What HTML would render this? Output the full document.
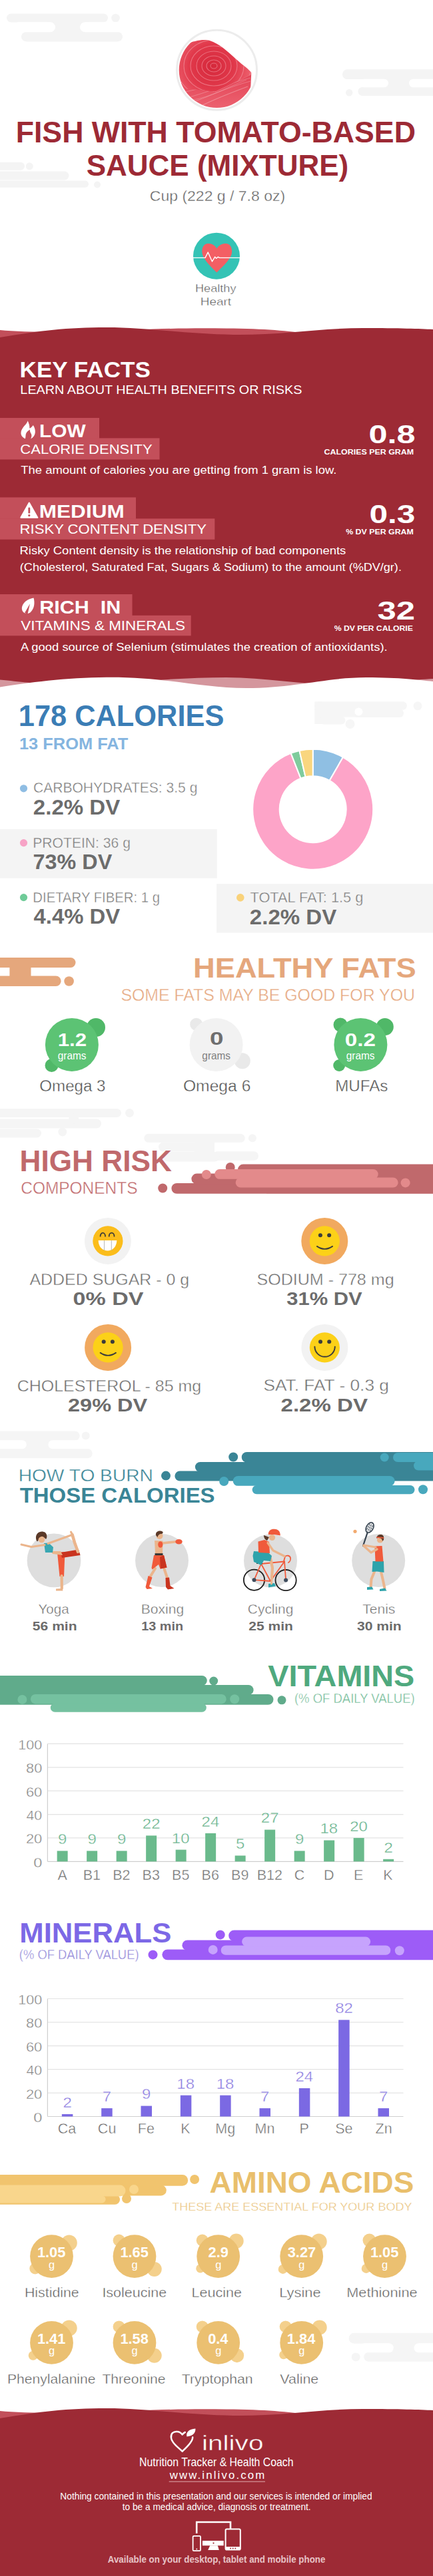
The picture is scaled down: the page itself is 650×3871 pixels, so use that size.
<!DOCTYPE html>
<html><head><meta charset="utf-8"><title>Fish with tomato-based sauce (mixture) - Nutrition facts</title>
<style>
html,body{margin:0;padding:0;background:#ffffff;}
body{width:650px;height:3871px;overflow:hidden;}
svg{display:block;}
text{font-family:"Liberation Sans", Arial, sans-serif; white-space:pre;}
</style></head>
<body>
<svg width="650" height="3871" viewBox="0 0 650 3871">
<rect x="0" y="0" width="650" height="3871" fill="#ffffff"/>
<rect x="10.00" y="20.55" width="152.00" height="12.90" rx="6.450000000000001" fill="#f4f4f4"/>
<circle cx="173.50" cy="27.00" r="6.30" fill="#f4f4f4"/>
<rect x="32.00" y="48.05" width="152.00" height="14.40" rx="7.200000000000003" fill="#f4f4f4"/>
<rect x="70.00" y="32.50" width="64.00" height="16.50" fill="#f4f4f4"/>
<rect x="20.00" y="33.20" width="63.00" height="15.10" rx="7.549999999999997" fill="#ffffff"/>
<rect x="120.00" y="33.20" width="80.00" height="15.10" rx="7.549999999999997" fill="#ffffff"/>
<rect x="514.00" y="104.25" width="186.00" height="14.80" rx="7.399999999999999" fill="#f4f4f4"/>
<rect x="537.40" y="130.95" width="162.60" height="13.00" rx="6.499999999999986" fill="#f4f4f4"/>
<rect x="575.00" y="118.00" width="55.00" height="14.00" fill="#f4f4f4"/>
<rect x="540.00" y="118.80" width="43.00" height="12.40" rx="6.199999999999996" fill="#ffffff"/>
<rect x="614.00" y="118.80" width="86.00" height="12.40" rx="6.199999999999996" fill="#ffffff"/>
<circle cx="524.20" cy="139.30" r="5.20" fill="#f4f4f4"/>
<rect x="-10.00" y="243.75" width="47.00" height="12.00" rx="6.0" fill="#f4f4f4"/>
<circle cx="44.30" cy="249.80" r="5.50" fill="#f4f4f4"/>
<rect x="-10.00" y="257.55" width="113.50" height="12.90" rx="6.449999999999989" fill="#f4f4f4"/>
<rect x="-10.00" y="271.55" width="143.00" height="10.10" rx="5.049999999999983" fill="#f4f4f4"/>
<circle cx="146.00" cy="277.50" r="5.00" fill="#f4f4f4"/>
<circle cx="325.50" cy="105.20" r="60.00" fill="#ffffff" stroke="#ececec" stroke-width="3"/>
<defs><clipPath id="fishclip"><circle cx="325.5" cy="105.2" r="56.8"/></clipPath><radialGradient id="fishg" gradientUnits="userSpaceOnUse" cx="318" cy="100" r="62"><stop offset="0" stop-color="#d5283b"/><stop offset="0.55" stop-color="#e1394b"/><stop offset="1" stop-color="#ee6471"/></radialGradient><linearGradient id="fishs" x1="0" y1="0" x2="0" y2="1"><stop offset="0" stop-color="#e34456"/><stop offset="1" stop-color="#ef6c79"/></linearGradient><clipPath id="fishtop"><path d="M255,80 L270.5,75.8 C278,68 285,63 292.7,62 C298,60.5 302,60 306.6,60 C310,60 312.5,60.3 314.9,61.1 C322,63.5 328,67 334.3,71.6 C341,77 347,82 353.7,88.3 C359,93 365,98 370.3,102.1 C373,104.5 375,106.5 377.2,109 L377.2,112 L323,138 L300,135 L255,132 Z"/></clipPath></defs>
<g clip-path="url(#fishclip)">
<path d="M255,120 L300,133 L323.2,138.1 L377.2,111.8 L376,138 L371.7,149 L371.7,180 L255,180 Z" fill="url(#fishs)"/>
<path d="M262,140 C290,138 330,124 376,112" fill="none" stroke="#ffffff" stroke-opacity="0.25" stroke-width="1"/>
<path d="M262,150 C290,148 330,129 376,117" fill="none" stroke="#ffffff" stroke-opacity="0.25" stroke-width="1"/>
<path d="M262,160 C290,158 330,134 376,122" fill="none" stroke="#ffffff" stroke-opacity="0.25" stroke-width="1"/>
<path d="M300,160 C320,150 345,140 372,130" fill="none" stroke="#ffffff" stroke-opacity="0.3" stroke-width="1.1"/>
<path d="M290,150 C315,146 340,132 370,120" fill="none" stroke="#ffffff" stroke-opacity="0.22" stroke-width="1"/>
<g clip-path="url(#fishtop)">
<rect x="250.00" y="55.00" width="140.00" height="90.00" fill="url(#fishg)"/>
<ellipse cx="321" cy="99" rx="5" ry="4" fill="none" stroke="#f6a0ab" stroke-opacity="0.55" stroke-width="1.1"/>
<ellipse cx="321" cy="99" rx="11" ry="9" fill="none" stroke="#f6a0ab" stroke-opacity="0.55" stroke-width="1.1"/>
<ellipse cx="321" cy="99" rx="18" ry="15" fill="none" stroke="#f6a0ab" stroke-opacity="0.55" stroke-width="1.1"/>
<ellipse cx="321" cy="99" rx="26" ry="22" fill="none" stroke="#f6a0ab" stroke-opacity="0.55" stroke-width="1.1"/>
<ellipse cx="321" cy="99" rx="35" ry="30" fill="none" stroke="#f6a0ab" stroke-opacity="0.55" stroke-width="1.1"/>
<ellipse cx="321" cy="99" rx="45" ry="39" fill="none" stroke="#f6a0ab" stroke-opacity="0.55" stroke-width="1.1"/>
<ellipse cx="321" cy="99" rx="56" ry="49" fill="none" stroke="#f6a0ab" stroke-opacity="0.55" stroke-width="1.1"/>
</g>
</g>
<text x="23.69" y="214.40" font-size="44.00" font-weight="bold" fill="#9d2a35" textLength="600.18" lengthAdjust="spacingAndGlyphs">FISH WITH TOMATO-BASED</text>
<text x="129.68" y="264.00" font-size="44.00" font-weight="bold" fill="#9d2a35" textLength="393.50" lengthAdjust="spacingAndGlyphs">SAUCE (MIXTURE)</text>
<text x="224.85" y="302.40" font-size="21.50" fill="#5e5e5e" textLength="203.26" lengthAdjust="spacingAndGlyphs" stroke="#ffffff" stroke-width="0.4">Cup (222 g / 7.8 oz)</text>
<circle cx="325.00" cy="384.70" r="35.00" fill="#34c3b5"/>
<path d="M325.3,373.5 C322,367.5 317,366 312.2,366 C306.5,366 303.3,371 303.3,378 C303.3,388 314,398 325.3,409.6 C336.6,398 348.2,388 348.2,378 C348.2,371 345,366 339.2,366 C334.5,366 329,367.5 325.3,373.5 Z" fill="#f35f64"/>
<path d="M290,387.4 L308.1,387.4 L312.2,379.1 L318.5,393 L322.6,386.1 L324.7,388.2 L327.4,386.1 L329.5,387.4 L360,387.4" fill="none" stroke="#ffffff" stroke-width="1.4" stroke-linejoin="round"/>
<text x="293.00" y="439.30" font-size="15.90" fill="#505050" textLength="61.45" lengthAdjust="spacingAndGlyphs" stroke="#ffffff" stroke-width="0.4">Healthy</text>
<text x="300.84" y="458.50" font-size="15.90" fill="#505050" textLength="46.31" lengthAdjust="spacingAndGlyphs" stroke="#ffffff" stroke-width="0.4">Heart</text>
<path d="M0,496 C40,500 120,500 200,496 C260,493 300,493 340,493.5 C400,494 430,497 470,502 L650,505 L650,560 L0,560 Z" fill="#c24f5a"/>
<path d="M0,507 C60,497 100,492 160,492 C220,492 280,502 350,503 C420,504 480,493 545,493 C600,493 630,494 650,495 L650,1040 L0,1040 Z" fill="#9d2a35"/>
<path d="M0,1021.4 C30,1024 50,1028 100,1028 C170,1028 260,1018 340,1018 C400,1018 460,1030 520,1029 C580,1028 620,1021 650,1020 L650,1045 L0,1045 Z" fill="#d4969d"/>
<path d="M0,1032.5 C40,1026 100,1018 160,1017.7 C250,1017 300,1034 370,1034 C440,1034 490,1018 550,1018 C600,1018 630,1022 650,1024 L650,1050 L0,1050 Z" fill="#ffffff"/>
<text x="29.63" y="567.40" font-size="33.70" font-weight="bold" fill="#ffffff" textLength="196.23" lengthAdjust="spacingAndGlyphs">KEY FACTS</text>
<text x="30.37" y="592.40" font-size="18.20" fill="#ffffff" textLength="423.12" lengthAdjust="spacingAndGlyphs">LEARN ABOUT HEALTH BENEFITS OR RISKS</text>
<rect x="0.00" y="628.00" width="149.00" height="31.00" fill="#c34f5a"/>
<rect x="0.00" y="658.40" width="239.50" height="32.10" fill="#c34f5a"/>
<path d="M41.6,632.2 C43.5,636 44.6,640 44.4,643.8 C46.5,642.6 48.6,640.7 49.8,638.9 C52,642 53.1,646 52.8,649.6 C52.5,654 50,657.6 46.2,659.4 C47.6,656.6 47.9,653.6 46.6,651.6 C45.6,650 44.6,648 44.9,645.6 C42,647.5 39.6,649.6 38.9,652 C38.3,654.5 38.6,657 37.9,659.2 C33.5,657.2 31.2,654 31.5,650.2 C31.8,644.5 36.5,640.5 39.3,636.8 C40.4,635.3 41.3,633.8 41.6,632.2 Z" fill="#ffffff"/>
<text x="58.98" y="657.00" font-size="28.00" font-weight="bold" fill="#ffffff" textLength="69.69" lengthAdjust="spacingAndGlyphs">LOW</text>
<text x="30.30" y="682.10" font-size="20.40" fill="#ffffff" textLength="198.29" lengthAdjust="spacingAndGlyphs">CALORIE DENSITY</text>
<text x="31.29" y="712.40" font-size="16.30" fill="#ffffff" textLength="474.08" lengthAdjust="spacingAndGlyphs">The amount of calories you are getting from 1 gram is low.</text>
<text x="553.48" y="665.90" font-size="39.00" font-weight="bold" fill="#ffffff" textLength="70.04" lengthAdjust="spacingAndGlyphs">0.8</text>
<text x="486.50" y="683.20" font-size="11.60" font-weight="bold" fill="#ffffff" textLength="134.63" lengthAdjust="spacingAndGlyphs">CALORIES PER GRAM</text>
<rect x="0.00" y="747.40" width="204.00" height="32.40" fill="#c34f5a"/>
<rect x="0.00" y="779.30" width="322.30" height="31.40" fill="#c34f5a"/>
<path d="M43.8,755.5 L56.3,777.8 L31.3,777.8 Z" fill="#ffffff" stroke="#ffffff" stroke-width="2" stroke-linejoin="round"/>
<rect x="42.40" y="762.50" width="2.80" height="9.00" rx="1.2" fill="#c34f5a"/>
<circle cx="43.80" cy="774.60" r="1.60" fill="#c34f5a"/>
<text x="58.87" y="777.70" font-size="28.00" font-weight="bold" fill="#ffffff" textLength="127.78" lengthAdjust="spacingAndGlyphs">MEDIUM</text>
<text x="29.58" y="802.20" font-size="20.40" fill="#ffffff" textLength="280.33" lengthAdjust="spacingAndGlyphs">RISKY CONTENT DENSITY</text>
<text x="29.48" y="833.00" font-size="16.30" fill="#ffffff" textLength="489.88" lengthAdjust="spacingAndGlyphs">Risky Content density is the relationship of bad components</text>
<text x="29.87" y="857.90" font-size="16.30" fill="#ffffff" textLength="573.05" lengthAdjust="spacingAndGlyphs">(Cholesterol, Saturated Fat, Sugars &amp; Sodium) to the amount (%DV/gr).</text>
<text x="554.42" y="786.40" font-size="39.00" font-weight="bold" fill="#ffffff" textLength="68.93" lengthAdjust="spacingAndGlyphs">0.3</text>
<text x="519.19" y="802.60" font-size="11.60" font-weight="bold" fill="#ffffff" textLength="101.62" lengthAdjust="spacingAndGlyphs">% DV PER GRAM</text>
<rect x="0.00" y="893.00" width="198.50" height="32.30" fill="#c34f5a"/>
<rect x="0.00" y="924.80" width="286.70" height="30.50" fill="#c34f5a"/>
<path d="M50.5,898.6 C52.6,906 51.6,915 45.6,920.2 C42,923.2 37,922.2 34.5,919.2 C32,916.2 32.5,911 35,907.5 C38.5,902.5 44,900 50.5,898.6 Z" fill="#ffffff"/>
<path d="M45,907.2 L41.3,923.5 L37.2,920.8 Z" fill="#c34f5a"/>
<text x="59.34" y="921.60" font-size="28.00" font-weight="bold" fill="#ffffff" textLength="121.92" lengthAdjust="spacingAndGlyphs">RICH  IN</text>
<text x="31.29" y="947.00" font-size="20.40" fill="#ffffff" textLength="246.69" lengthAdjust="spacingAndGlyphs">VITAMINS &amp; MINERALS</text>
<text x="30.95" y="978.40" font-size="16.30" fill="#ffffff" textLength="550.73" lengthAdjust="spacingAndGlyphs">A good source of Selenium (stimulates the creation of antioxidants).</text>
<text x="566.46" y="931.40" font-size="39.00" font-weight="bold" fill="#ffffff" textLength="56.57" lengthAdjust="spacingAndGlyphs">32</text>
<text x="501.69" y="947.50" font-size="11.60" font-weight="bold" fill="#ffffff" textLength="118.10" lengthAdjust="spacingAndGlyphs">% DV PER CALORIE</text>
<rect x="472.30" y="1054.35" width="138.70" height="12.40" rx="6.2000000000000455" fill="#f6f6f6"/>
<rect x="472.30" y="1054.40" width="12.00" height="12.30" fill="#f6f6f6"/>
<circle cx="627.00" cy="1060.80" r="6.50" fill="#f6f6f6"/>
<rect x="472.30" y="1066.00" width="74.00" height="11.50" fill="#f6f6f6"/>
<rect x="530.00" y="1065.55" width="76.00" height="12.40" rx="6.2000000000000455" fill="#f6f6f6"/>
<rect x="472.30" y="1077.00" width="36.00" height="11.00" fill="#f6f6f6"/>
<rect x="480.00" y="1076.55" width="38.50" height="11.90" rx="5.9500000000000455" fill="#f6f6f6"/>
<circle cx="525.50" cy="1088.00" r="7.00" fill="#f6f6f6"/>
<circle cx="538.40" cy="1069.50" r="6.00" fill="#ffffff"/>
<text x="27.79" y="1091.20" font-size="43.60" font-weight="bold" fill="#3b7db5" textLength="308.58" lengthAdjust="spacingAndGlyphs">178 CALORIES</text>
<text x="28.91" y="1126.00" font-size="23.30" font-weight="bold" fill="#85b5e0" textLength="163.38" lengthAdjust="spacingAndGlyphs">13 FROM FAT</text>
<circle cx="35.50" cy="1184.80" r="5.60" fill="#8fbde3"/>
<text x="49.95" y="1191.40" font-size="21.40" fill="#7a7a7a" textLength="246.42" lengthAdjust="spacingAndGlyphs" stroke="#ffffff" stroke-width="0.4">CARBOHYDRATES: 3.5 g</text>
<text x="49.84" y="1223.80" font-size="32.00" font-weight="bold" fill="#6c6c6c" textLength="130.37" lengthAdjust="spacingAndGlyphs">2.2% DV</text>
<rect x="0.00" y="1246.00" width="325.70" height="73.70" fill="#f4f4f4"/>
<circle cx="35.50" cy="1266.60" r="5.60" fill="#f7a3c6"/>
<text x="49.26" y="1273.80" font-size="21.40" fill="#7a7a7a" textLength="146.70" lengthAdjust="spacingAndGlyphs" stroke="#f4f4f4" stroke-width="0.4">PROTEIN: 36 g</text>
<text x="49.63" y="1305.80" font-size="32.00" font-weight="bold" fill="#6c6c6c" textLength="118.57" lengthAdjust="spacingAndGlyphs">73% DV</text>
<circle cx="35.50" cy="1348.60" r="5.60" fill="#6fcb98"/>
<text x="49.33" y="1355.80" font-size="21.40" fill="#7a7a7a" textLength="190.69" lengthAdjust="spacingAndGlyphs" stroke="#ffffff" stroke-width="0.4">DIETARY FIBER: 1 g</text>
<text x="50.51" y="1388.30" font-size="32.00" font-weight="bold" fill="#6c6c6c" textLength="129.70" lengthAdjust="spacingAndGlyphs">4.4% DV</text>
<rect x="325.00" y="1328.20" width="325.00" height="73.40" fill="#f4f4f4"/>
<circle cx="360.80" cy="1348.90" r="5.80" fill="#f9d27a"/>
<text x="375.51" y="1355.50" font-size="21.40" fill="#7a7a7a" textLength="169.90" lengthAdjust="spacingAndGlyphs" stroke="#f4f4f4" stroke-width="0.4">TOTAL FAT: 1.5 g</text>
<text x="374.84" y="1389.00" font-size="32.00" font-weight="bold" fill="#6c6c6c" textLength="130.37" lengthAdjust="spacingAndGlyphs">2.2% DV</text>
<path d="M469.70,1125.70 A90.5,90.5 0 0 1 514.95,1137.82 L494.70,1172.90 A50,50 0 0 0 469.70,1166.20 Z" fill="#8fbfe3" stroke="#ffffff" stroke-width="2"/>
<path d="M514.95,1137.82 A90.5,90.5 0 1 1 436.68,1131.94 L451.46,1169.65 A50,50 0 1 0 494.70,1172.90 Z" fill="#fda4c8" stroke="#ffffff" stroke-width="2"/>
<path d="M436.68,1131.94 A90.5,90.5 0 0 1 449.50,1127.98 L458.54,1167.46 A50,50 0 0 0 451.46,1169.65 Z" fill="#7fcc9d" stroke="#ffffff" stroke-width="2"/>
<path d="M449.50,1127.98 A90.5,90.5 0 0 1 469.70,1125.70 L469.70,1166.20 A50,50 0 0 0 458.54,1167.46 Z" fill="#f9d67f" stroke="#ffffff" stroke-width="2"/>
<rect x="-20.00" y="1438.95" width="133.50" height="15.00" rx="7.5" fill="#e5a77c"/>
<rect x="14.40" y="1452.00" width="32.10" height="16.00" fill="#e5a77c"/>
<rect x="-20.00" y="1466.55" width="111.60" height="15.40" rx="7.7000000000000455" fill="#e5a77c"/>
<circle cx="103.60" cy="1474.50" r="7.30" fill="#e5a77c"/>
<text x="289.94" y="1469.20" font-size="43.20" font-weight="bold" fill="#e5a77c" textLength="334.84" lengthAdjust="spacingAndGlyphs">HEALTHY FATS</text>
<text x="181.38" y="1504.20" font-size="25.40" fill="#e6a87f" textLength="441.55" lengthAdjust="spacingAndGlyphs" stroke="#ffffff" stroke-width="0.4">SOME FATS MAY BE GOOD FOR YOU</text>
<circle cx="144.00" cy="1544.00" r="14.00" fill="#50b868"/>
<circle cx="77.50" cy="1601.00" r="10.00" fill="#50b868"/>
<circle cx="107.90" cy="1569.90" r="40.00" fill="#5cc374"/>
<text x="86.75" y="1571.90" font-size="28.00" font-weight="bold" fill="#ffffff" textLength="43.43" lengthAdjust="spacingAndGlyphs">1.2</text>
<text x="86.75" y="1592.30" font-size="16.50" fill="#ffffff" textLength="42.81" lengthAdjust="spacingAndGlyphs">grams</text>
<circle cx="294.70" cy="1539.20" r="9.50" fill="#e9e9e9"/>
<circle cx="363.80" cy="1594.30" r="12.00" fill="#e9e9e9"/>
<circle cx="324.60" cy="1570.00" r="40.00" fill="#f2f2f2"/>
<text x="315.13" y="1570.40" font-size="28.00" font-weight="bold" fill="#6e6e6e" textLength="20.49" lengthAdjust="spacingAndGlyphs">0</text>
<text x="303.35" y="1592.30" font-size="16.50" fill="#808080" textLength="42.70" lengthAdjust="spacingAndGlyphs">grams</text>
<circle cx="511.00" cy="1540.00" r="10.50" fill="#50b868"/>
<circle cx="577.80" cy="1543.00" r="13.00" fill="#50b868"/>
<circle cx="509.20" cy="1601.00" r="9.00" fill="#50b868"/>
<circle cx="541.40" cy="1569.90" r="40.00" fill="#5cc374"/>
<text x="517.87" y="1571.90" font-size="28.00" font-weight="bold" fill="#ffffff" textLength="46.18" lengthAdjust="spacingAndGlyphs">0.2</text>
<text x="519.75" y="1592.30" font-size="16.50" fill="#ffffff" textLength="42.81" lengthAdjust="spacingAndGlyphs">grams</text>
<text x="59.35" y="1640.00" font-size="24.70" fill="#525252" textLength="99.19" lengthAdjust="spacingAndGlyphs" stroke="#ffffff" stroke-width="0.4">Omega 3</text>
<text x="274.93" y="1640.00" font-size="24.70" fill="#525252" textLength="101.44" lengthAdjust="spacingAndGlyphs" stroke="#ffffff" stroke-width="0.4">Omega 6</text>
<text x="503.21" y="1640.00" font-size="24.70" fill="#525252" textLength="79.15" lengthAdjust="spacingAndGlyphs" stroke="#ffffff" stroke-width="0.4">MUFAs</text>
<rect x="-10.00" y="1666.05" width="192.00" height="12.90" rx="6.4500000000000455" fill="#f5f5f5"/>
<circle cx="194.50" cy="1672.50" r="6.50" fill="#f5f5f5"/>
<rect x="-10.00" y="1681.55" width="162.00" height="13.90" rx="6.9500000000000455" fill="#f5f5f5"/>
<circle cx="110.70" cy="1681.00" r="7.50" fill="#f5f5f5"/>
<rect x="-10.00" y="1696.55" width="72.00" height="12.90" rx="6.4500000000000455" fill="#f5f5f5"/>
<circle cx="93.80" cy="1701.00" r="6.50" fill="#f5f5f5"/>
<rect x="216.30" y="1703.75" width="151.40" height="13.10" rx="6.550000000000068" fill="#f5f5f5"/>
<circle cx="378.90" cy="1710.30" r="6.00" fill="#f5f5f5"/>
<rect x="291.50" y="1716.00" width="30.50" height="15.00" fill="#f5f5f5"/>
<rect x="238.00" y="1716.55" width="62.00" height="13.90" rx="6.9500000000000455" fill="#f5f5f5"/>
<rect x="319.40" y="1730.15" width="68.60" height="13.70" rx="6.850000000000136" fill="#f5f5f5"/>
<rect x="245.00" y="1731.05" width="85.00" height="14.40" rx="7.2000000000000455" fill="#f5f5f5"/>
<text x="29.52" y="1759.60" font-size="43.60" font-weight="bold" fill="#c0696c" textLength="228.41" lengthAdjust="spacingAndGlyphs">HIGH RISK</text>
<text x="31.28" y="1794.30" font-size="25.40" fill="#c0696c" textLength="175.21" lengthAdjust="spacingAndGlyphs" stroke="#ffffff" stroke-width="0.4">COMPONENTS</text>
<circle cx="244.20" cy="1785.50" r="7.00" fill="#c0696c"/>
<rect x="257.40" y="1777.95" width="442.60" height="15.80" rx="7.899999999999977" fill="#c0696c"/>
<rect x="287.40" y="1763.55" width="412.60" height="15.90" rx="7.9500000000000455" fill="#c0696c"/>
<circle cx="345.70" cy="1754.00" r="7.00" fill="#c0696c"/>
<rect x="357.00" y="1749.55" width="343.00" height="15.90" rx="7.9500000000000455" fill="#c0696c"/>
<rect x="400.00" y="1750.00" width="250.00" height="43.30" fill="#c0696c"/>
<circle cx="309.80" cy="1765.00" r="7.00" fill="#e38a8b"/>
<rect x="322.30" y="1756.95" width="245.40" height="14.90" rx="7.4500000000000455" fill="#e38a8b"/>
<rect x="353.70" y="1769.55" width="243.90" height="14.90" rx="7.4500000000000455" fill="#e38a8b"/>
<circle cx="608.60" cy="1777.40" r="7.00" fill="#e38a8b"/>
<circle cx="161.90" cy="1864.90" r="35.00" fill="#f2f2f2"/>
<circle cx="161.90" cy="1864.90" r="22.60" fill="#fbbd1b"/>
<path d="M150.6,1857.7 A3.7,5 0 0 1 158.0,1857.7" fill="none" stroke="#3a3a3a" stroke-width="1.8" stroke-linecap="round"/>
<path d="M163.70000000000002,1857.7 A3.9,5 0 0 1 171.5,1857.7" fill="none" stroke="#3a3a3a" stroke-width="1.8" stroke-linecap="round"/>
<path d="M147.6,1864.1000000000001 L175.4,1864.1000000000001 C174.9,1874.9 167.9,1879.6000000000001 161.5,1879.6000000000001 C154.9,1879.6000000000001 147.9,1874.9 147.6,1864.1000000000001 Z" fill="#ffffff"/>
<rect x="156.10" y="1864.10" width="0.90" height="15.00" fill="#b0b0b0"/>
<rect x="166.80" y="1864.10" width="0.90" height="15.00" fill="#b0b0b0"/>
<circle cx="487.30" cy="1864.90" r="35.00" fill="#f1a95f"/>
<circle cx="487.30" cy="1864.90" r="22.60" fill="#fcd118"/>
<circle cx="480.90" cy="1856.20" r="3.00" fill="#3c3c3c"/>
<circle cx="494.10" cy="1856.20" r="3.00" fill="#3c3c3c"/>
<path d="M475.90000000000003,1872.9 Q487.3,1880.9 499.1,1872.9" fill="none" stroke="#3c3c3c" stroke-width="1.9" stroke-linecap="round"/>
<circle cx="162.10" cy="2024.90" r="35.00" fill="#f1a95f"/>
<circle cx="162.10" cy="2024.90" r="22.60" fill="#fcd118"/>
<circle cx="155.70" cy="2016.20" r="3.00" fill="#3c3c3c"/>
<circle cx="168.90" cy="2016.20" r="3.00" fill="#3c3c3c"/>
<path d="M150.7,2032.9 Q162.1,2040.9 173.9,2032.9" fill="none" stroke="#3c3c3c" stroke-width="1.9" stroke-linecap="round"/>
<circle cx="487.40" cy="2024.90" r="35.00" fill="#f2f2f2"/>
<circle cx="487.40" cy="2024.90" r="22.60" fill="#fcd118"/>
<circle cx="481.00" cy="2016.20" r="3.00" fill="#3c3c3c"/>
<circle cx="494.20" cy="2016.20" r="3.00" fill="#3c3c3c"/>
<path d="M472.4,2023.6000000000001 A15.2,15.2 0 0 0 502.79999999999995,2023.6000000000001" fill="none" stroke="#3c3c3c" stroke-width="1.9" stroke-linecap="round"/>
<text x="44.44" y="1930.50" font-size="24.70" fill="#707070" textLength="239.65" lengthAdjust="spacingAndGlyphs" stroke="#ffffff" stroke-width="0.4">ADDED SUGAR - 0 g</text>
<text x="109.64" y="1960.80" font-size="27.50" font-weight="bold" fill="#6c6c6c" textLength="105.81" lengthAdjust="spacingAndGlyphs">0% DV</text>
<text x="385.47" y="1930.50" font-size="24.70" fill="#707070" textLength="206.14" lengthAdjust="spacingAndGlyphs" stroke="#ffffff" stroke-width="0.4">SODIUM - 778 mg</text>
<text x="430.30" y="1960.50" font-size="27.50" font-weight="bold" fill="#6c6c6c" textLength="113.38" lengthAdjust="spacingAndGlyphs">31% DV</text>
<text x="25.65" y="2090.50" font-size="24.70" fill="#707070" textLength="276.61" lengthAdjust="spacingAndGlyphs" stroke="#ffffff" stroke-width="0.4">CHOLESTEROL - 85 mg</text>
<text x="102.06" y="2121.30" font-size="27.50" font-weight="bold" fill="#6c6c6c" textLength="119.13" lengthAdjust="spacingAndGlyphs">29% DV</text>
<text x="395.42" y="2090.30" font-size="24.70" fill="#707070" textLength="188.59" lengthAdjust="spacingAndGlyphs" stroke="#ffffff" stroke-width="0.4">SAT. FAT - 0.3 g</text>
<text x="421.54" y="2121.30" font-size="27.50" font-weight="bold" fill="#6c6c6c" textLength="130.47" lengthAdjust="spacingAndGlyphs">2.2% DV</text>
<rect x="-10.00" y="2150.55" width="129.70" height="14.20" rx="7.099999999999909" fill="#f5f5f5"/>
<circle cx="128.70" cy="2157.50" r="6.00" fill="#f5f5f5"/>
<rect x="-10.00" y="2176.75" width="148.70" height="14.60" rx="7.2999999999999545" fill="#f5f5f5"/>
<rect x="30.00" y="2163.80" width="52.00" height="14.00" fill="#f5f5f5"/>
<rect x="-50.00" y="2164.30" width="89.90" height="12.90" rx="6.449999999999818" fill="#ffffff"/>
<rect x="72.30" y="2164.30" width="227.70" height="12.90" rx="6.449999999999818" fill="#ffffff"/>
<text x="27.68" y="2226.40" font-size="26.20" fill="#3a8596" textLength="202.16" lengthAdjust="spacingAndGlyphs" stroke="#ffffff" stroke-width="0.4">HOW TO BURN</text>
<text x="29.67" y="2258.30" font-size="30.50" font-weight="bold" fill="#3a8596" textLength="292.94" lengthAdjust="spacingAndGlyphs">THOSE CALORIES</text>
<circle cx="249.00" cy="2217.60" r="7.00" fill="#3a8596"/>
<rect x="262.40" y="2210.55" width="437.60" height="14.90" rx="7.449999999999818" fill="#3a8596"/>
<rect x="292.90" y="2197.05" width="407.10" height="14.90" rx="7.449999999999818" fill="#3a8596"/>
<circle cx="350.20" cy="2189.50" r="7.00" fill="#3a8596"/>
<rect x="362.70" y="2182.05" width="337.30" height="15.40" rx="7.699999999999818" fill="#3a8596"/>
<rect x="400.00" y="2182.50" width="250.00" height="36.00" fill="#3a8596"/>
<circle cx="336.20" cy="2226.00" r="7.00" fill="#48a8bd"/>
<rect x="349.70" y="2217.95" width="242.90" height="14.90" rx="7.449999999999818" fill="#48a8bd"/>
<rect x="378.60" y="2231.95" width="243.90" height="13.30" rx="6.649999999999864" fill="#48a8bd"/>
<circle cx="635.00" cy="2238.30" r="7.00" fill="#48a8bd"/>
<circle cx="577.20" cy="2190.00" r="6.50" fill="#48a8bd"/>
<rect x="590.00" y="2183.05" width="110.00" height="13.90" rx="6.949999999999818" fill="#48a8bd"/>
<rect x="621.00" y="2195.55" width="79.00" height="13.90" rx="6.949999999999818" fill="#48a8bd"/>
<circle cx="81.00" cy="2344.90" r="40.40" fill="#dedede"/>
<path d="M86.0,2333.0 L97.5,2332.0 L96.0,2369.0 L89.5,2369.0 Z" fill="#f05a3b"/>
<path d="M92.6,2368.0 L92.8,2387.0" fill="none" stroke="#ebb58c" stroke-width="4.2" stroke-linecap="round" stroke-linejoin="round"/>
<path d="M84.0,2387.5 L93.5,2387.0 L94.5,2390.5 L84.0,2390.5 Z" fill="#ebb58c"/>
<path d="M91.0,2333.0 L118.0,2328.5 L120.5,2337.0 L93.0,2341.0 Z" fill="#c9341f"/>
<path d="M117.0,2332.0 L112.0,2318.0 L108.5,2306.0" fill="none" stroke="#ebb58c" stroke-width="4.5" stroke-linecap="round" stroke-linejoin="round"/>
<path d="M108.5,2306.0 L106.5,2302.0" fill="none" stroke="#ebb58c" stroke-width="3" stroke-linecap="round" stroke-linejoin="round"/>
<path d="M76.0,2331.0 L91.0,2331.0 L94.0,2337.0 L79.0,2335.0 Z" fill="#ebb58c"/>
<path d="M66.0,2319.0 L73.0,2318.5 L80.0,2325.0 L79.0,2333.0 L68.0,2333.0 Z" fill="#39a7b2"/>
<path d="M67.0,2321.5 L47.0,2324.5 L32.0,2321.0" fill="none" stroke="#ebb58c" stroke-width="3" stroke-linecap="round" stroke-linejoin="round"/>
<path d="M72.0,2319.5 L108.0,2306.5" fill="none" stroke="#ebb58c" stroke-width="3" stroke-linecap="round" stroke-linejoin="round"/>
<path d="M54,2312 C53,2303 62,2299 68,2303 C71,2306 71,2311 69,2313 C66,2309 61,2309 58,2313 C57,2317 55,2318 54,2312 Z" fill="#5b3a29"/>
<circle cx="62.50" cy="2313.50" r="4.80" fill="#ebb58c"/>
<path d="M57.5,2310 C58,2306 63,2305 66.5,2308 C63,2308.5 60,2309 57.5,2312 Z" fill="#5b3a29"/>
<circle cx="243.00" cy="2345.00" r="40.00" fill="#dedede"/>
<path d="M233.0,2357.0 L225.0,2370.0" fill="none" stroke="#ebb58c" stroke-width="4" stroke-linecap="round" stroke-linejoin="round"/>
<path d="M246.0,2356.0 L251.0,2371.0" fill="none" stroke="#ebb58c" stroke-width="4" stroke-linecap="round" stroke-linejoin="round"/>
<path d="M222.5,2368.0 L228.5,2370.5 L224.0,2384.0 L229.0,2387.0 L220.5,2388.0 L218.5,2385.0 Z" fill="#f05a3b"/>
<path d="M248.5,2371.0 L254.0,2370.5 L255.5,2383.0 L261.5,2387.0 L252.0,2388.5 L249.0,2385.0 Z" fill="#c9341f"/>
<path d="M232.0,2315.0 L244.5,2315.5 L244.0,2335.0 L233.0,2335.0 Z" fill="#ebb58c"/>
<path d="M231.0,2337.0 L246.0,2337.0 L250.5,2355.5 L240.5,2357.5 L238.0,2351.0 L228.5,2358.5 L227.5,2356.0 Z" fill="#f05a3b"/>
<path d="M240.0,2340.0 L246.0,2337.0 L250.5,2355.5 L241.0,2357.5 Z" fill="#c9341f"/>
<rect x="232.50" y="2334.20" width="12.00" height="3.00" fill="#333333"/>
<path d="M243.0,2319.0 L264.0,2316.8" fill="none" stroke="#ebb58c" stroke-width="3.6" stroke-linecap="round" stroke-linejoin="round"/>
<ellipse cx="268.5" cy="2316.7" rx="5.2" ry="3.8" fill="#f05a3b"/>
<ellipse cx="240.8" cy="2321" rx="3.6" ry="4.8" fill="#f05a3b"/>
<circle cx="239.50" cy="2308.00" r="5.00" fill="#ebb58c"/>
<path d="M234,2307 C233,2301 240,2299 244.5,2302 C245,2304 244,2305 242,2305 C239,2305 237,2307 236.5,2310 Z" fill="#5b3a29"/>
<circle cx="406.00" cy="2345.40" r="40.00" fill="#dedede"/>
<circle cx="381.50" cy="2374.20" r="15.60" fill="none" stroke="#1e1e1e" stroke-width="1.8" fill="none"/>
<circle cx="429.10" cy="2374.60" r="15.60" fill="none" stroke="#1e1e1e" stroke-width="1.8" fill="none"/>
<path d="M381.5,2374.2 L392.0,2350.0 L406.0,2376.0 L381.5,2374.2" fill="none" stroke="#f05a3b" stroke-width="1.8" stroke-linecap="round" stroke-linejoin="round"/>
<path d="M392.0,2350.0 L427.0,2346.5 L406.0,2376.0" fill="none" stroke="#f05a3b" stroke-width="1.8" stroke-linecap="round" stroke-linejoin="round"/>
<path d="M427.0,2346.5 L429.1,2374.6" fill="none" stroke="#f05a3b" stroke-width="1.8" stroke-linecap="round" stroke-linejoin="round"/>
<path d="M426,2346 L428,2339 C430,2337 435,2337 436,2341 C436.5,2344 435,2347 433,2348" fill="none" stroke="#f05a3b" stroke-width="1.8" stroke-linecap="round"/>
<circle cx="381.50" cy="2374.20" r="3.00" fill="#3d4b5c"/>
<circle cx="429.10" cy="2374.60" r="3.00" fill="#3d4b5c"/>
<rect x="385.00" y="2347.50" width="9.00" height="2.40" fill="#222222"/>
<path d="M406.0,2342.0 L409.0,2356.0 L408.0,2371.0" fill="none" stroke="#ebb58c" stroke-width="4.2" stroke-linecap="round" stroke-linejoin="round"/>
<path d="M403.0,2380.0 L412.0,2379.0 L414.0,2383.5 L403.0,2385.5 Z" fill="#2ea3ab"/>
<path d="M408.0,2371.0 L407.5,2380.0" fill="none" stroke="#ebb58c" stroke-width="3" stroke-linecap="round" stroke-linejoin="round"/>
<path d="M381.0,2331.0 L402.0,2332.5 L408.0,2338.0 L406.0,2346.0 L396.0,2345.0 L392.0,2352.0 L381.0,2347.0 L379.5,2338.0 Z" fill="#2ea3ab"/>
<path d="M387.5,2316.5 L397.0,2314.0 L404.0,2317.0 L405.0,2334.0 L388.0,2333.0 Z" fill="#f05a3b"/>
<path d="M402.0,2318.5 L410.0,2330.0 L427.0,2338.5" fill="none" stroke="#ebb58c" stroke-width="3.2" stroke-linecap="round" stroke-linejoin="round"/>
<path d="M396,2307 C396,2311 398,2314 401,2315 L404,2310 Z" fill="#5b3a29"/>
<circle cx="408.50" cy="2310.50" r="4.60" fill="#ebb58c"/>
<path d="M402.8,2306 C402.5,2300 407,2297.5 412,2297.8 C418,2298 421,2302 420.8,2307.5 L412,2306 Z" fill="#f05a3b"/>
<circle cx="568.20" cy="2345.00" r="40.00" fill="#dedede"/>
<circle cx="533.00" cy="2301.30" r="2.60" fill="#f2aa6f"/>
<ellipse cx="555.1" cy="2295.5" rx="5.2" ry="8.3" transform="rotate(28 555.1 2295.5)" fill="none" stroke="#34424f" stroke-width="1.6"/>
<g transform="rotate(28 555.1 2295.5)" stroke="#34424f" stroke-width="0.6"><line x1="552.6" y1="2288" x2="552.6" y2="2303"/><line x1="555.1" y1="2287.2" x2="555.1" y2="2303.8"/><line x1="557.6" y1="2288" x2="557.6" y2="2303"/><line x1="550" y1="2292" x2="560.2" y2="2292"/><line x1="550" y1="2295.5" x2="560.2" y2="2295.5"/><line x1="550" y1="2299" x2="560.2" y2="2299"/></g>
<path d="M551.3,2304.0 L545.0,2323.0" fill="none" stroke="#34424f" stroke-width="2.2" stroke-linecap="round" stroke-linejoin="round"/>
<path d="M562.0,2362.0 L557.5,2373.0 L556.5,2385.0" fill="none" stroke="#ebb58c" stroke-width="4" stroke-linecap="round" stroke-linejoin="round"/>
<path d="M572.0,2362.0 L575.0,2375.0 L577.5,2387.0" fill="none" stroke="#ebb58c" stroke-width="4" stroke-linecap="round" stroke-linejoin="round"/>
<path d="M551.0,2385.0 L558.5,2384.5 L560.5,2388.5 L551.0,2389.0 Z" fill="#2ea3ab"/>
<path d="M570.0,2388.0 L578.0,2386.5 L580.5,2390.5 L570.0,2391.0 Z" fill="#2ea3ab"/>
<path d="M559.5,2346.0 L576.0,2346.0 L576.5,2363.0 L566.0,2361.5 L558.5,2362.0 Z" fill="#2ea3ab"/>
<path d="M562.5,2323.5 L573.5,2323.0 L575.5,2346.5 L563.5,2346.5 Z" fill="#f05a3b"/>
<path d="M566.0,2328.0 L557.0,2333.0 L546.0,2323.0" fill="none" stroke="#ebb58c" stroke-width="3.4" stroke-linecap="round" stroke-linejoin="round"/>
<path d="M564.0,2325.0 L546.0,2322.0" fill="none" stroke="#ebb58c" stroke-width="3" stroke-linecap="round" stroke-linejoin="round"/>
<circle cx="570.50" cy="2314.00" r="4.60" fill="#ebb58c"/>
<path d="M565.5,2312 C565,2307 570,2305 574,2306.5 C576.5,2308 576.5,2311 576,2314 L574,2316 C574,2312 571,2311 567,2311 Z" fill="#5b3a29"/>
<path d="M565.5,2310.0 L575.5,2311.0" fill="none" stroke="#f05a3b" stroke-width="1.6" stroke-linecap="round" stroke-linejoin="round"/>
<text x="57.54" y="2425.40" font-size="20.60" fill="#707070" textLength="46.04" lengthAdjust="spacingAndGlyphs" stroke="#ffffff" stroke-width="0.4">Yoga</text>
<text x="48.87" y="2449.90" font-size="19.20" font-weight="bold" fill="#6c6c6c" textLength="66.71" lengthAdjust="spacingAndGlyphs">56 min</text>
<text x="211.76" y="2425.40" font-size="20.60" fill="#707070" textLength="64.36" lengthAdjust="spacingAndGlyphs" stroke="#ffffff" stroke-width="0.4">Boxing</text>
<text x="212.26" y="2449.90" font-size="19.20" font-weight="bold" fill="#6c6c6c" textLength="62.74" lengthAdjust="spacingAndGlyphs">13 min</text>
<text x="371.86" y="2425.40" font-size="20.60" fill="#707070" textLength="68.48" lengthAdjust="spacingAndGlyphs" stroke="#ffffff" stroke-width="0.4">Cycling</text>
<text x="373.37" y="2449.90" font-size="19.20" font-weight="bold" fill="#6c6c6c" textLength="66.51" lengthAdjust="spacingAndGlyphs">25 min</text>
<text x="544.23" y="2425.40" font-size="20.60" fill="#707070" textLength="49.10" lengthAdjust="spacingAndGlyphs" stroke="#ffffff" stroke-width="0.4">Tenis</text>
<text x="535.93" y="2449.90" font-size="19.20" font-weight="bold" fill="#6c6c6c" textLength="66.85" lengthAdjust="spacingAndGlyphs">30 min</text>
<rect x="-20.00" y="2517.95" width="330.80" height="15.10" rx="7.549999999999727" fill="#60ab8b"/>
<circle cx="320.70" cy="2526.00" r="6.50" fill="#60ab8b"/>
<rect x="-20.00" y="2531.95" width="400.60" height="15.10" rx="7.549999999999727" fill="#60ab8b"/>
<rect x="-20.00" y="2545.95" width="430.50" height="15.80" rx="7.899999999999864" fill="#60ab8b"/>
<circle cx="423.00" cy="2554.80" r="6.50" fill="#60ab8b"/>
<circle cx="33.40" cy="2553.90" r="7.00" fill="#75c1a0"/>
<rect x="45.90" y="2545.95" width="293.80" height="14.50" rx="7.249999999999773" fill="#75c1a0"/>
<rect x="75.80" y="2559.55" width="234.00" height="13.20" rx="6.599999999999909" fill="#75c1a0"/>
<circle cx="352.20" cy="2553.30" r="7.00" fill="#75c1a0"/>
<text x="402.35" y="2534.30" font-size="44.20" font-weight="bold" fill="#4fa97e" textLength="219.96" lengthAdjust="spacingAndGlyphs">VITAMINS</text>
<text x="441.94" y="2559.30" font-size="19.50" fill="#6db893" textLength="180.77" lengthAdjust="spacingAndGlyphs" stroke="#ffffff" stroke-width="0.4">(% OF DAILY VALUE)</text>
<line x1="71.4" y1="2620.40" x2="605.5" y2="2620.40" stroke="#e3e3e3" stroke-width="1.2"/>
<text x="27.39" y="2628.80" font-size="20.20" fill="#808080" textLength="35.84" lengthAdjust="spacingAndGlyphs" stroke="#ffffff" stroke-width="0.4">100</text>
<line x1="71.4" y1="2655.78" x2="605.5" y2="2655.78" stroke="#e3e3e3" stroke-width="1.2"/>
<text x="39.08" y="2664.18" font-size="20.20" fill="#808080" textLength="24.19" lengthAdjust="spacingAndGlyphs" stroke="#ffffff" stroke-width="0.4">80</text>
<line x1="71.4" y1="2691.16" x2="605.5" y2="2691.16" stroke="#e3e3e3" stroke-width="1.2"/>
<text x="38.90" y="2699.56" font-size="20.20" fill="#808080" textLength="24.37" lengthAdjust="spacingAndGlyphs" stroke="#ffffff" stroke-width="0.4">60</text>
<line x1="71.4" y1="2726.54" x2="605.5" y2="2726.54" stroke="#e3e3e3" stroke-width="1.2"/>
<text x="39.52" y="2734.94" font-size="20.20" fill="#808080" textLength="23.73" lengthAdjust="spacingAndGlyphs" stroke="#ffffff" stroke-width="0.4">40</text>
<line x1="71.4" y1="2761.92" x2="605.5" y2="2761.92" stroke="#e3e3e3" stroke-width="1.2"/>
<text x="38.90" y="2770.32" font-size="20.20" fill="#808080" textLength="24.37" lengthAdjust="spacingAndGlyphs" stroke="#ffffff" stroke-width="0.4">20</text>
<line x1="71.4" y1="2797.30" x2="605.5" y2="2797.30" stroke="#cfcfcf" stroke-width="1.2"/>
<text x="50.15" y="2805.70" font-size="20.20" fill="#808080" textLength="13.16" lengthAdjust="spacingAndGlyphs" stroke="#ffffff" stroke-width="0.4">0</text>
<line x1="71.4" y1="2620.40" x2="71.4" y2="2797.30" stroke="#cfcfcf" stroke-width="1.2"/>
<rect x="85.65" y="2781.38" width="16.00" height="15.92" fill="#6aba8c"/>
<text x="86.97" y="2771.28" font-size="21.80" fill="#62b088" textLength="13.34" lengthAdjust="spacingAndGlyphs" stroke="#ffffff" stroke-width="0.4">9</text>
<text x="86.47" y="2824.70" font-size="21.50" fill="#6e6e6e" textLength="14.34" lengthAdjust="spacingAndGlyphs" stroke="#ffffff" stroke-width="0.4">A</text>
<rect x="130.15" y="2781.38" width="16.00" height="15.92" fill="#6aba8c"/>
<text x="131.47" y="2771.28" font-size="21.80" fill="#62b088" textLength="13.34" lengthAdjust="spacingAndGlyphs" stroke="#ffffff" stroke-width="0.4">9</text>
<text x="124.63" y="2824.70" font-size="21.50" fill="#6e6e6e" textLength="26.30" lengthAdjust="spacingAndGlyphs" stroke="#ffffff" stroke-width="0.4">B1</text>
<rect x="174.65" y="2781.38" width="16.00" height="15.92" fill="#6aba8c"/>
<text x="175.97" y="2771.28" font-size="21.80" fill="#62b088" textLength="13.34" lengthAdjust="spacingAndGlyphs" stroke="#ffffff" stroke-width="0.4">9</text>
<text x="169.16" y="2824.70" font-size="21.50" fill="#6e6e6e" textLength="26.30" lengthAdjust="spacingAndGlyphs" stroke="#ffffff" stroke-width="0.4">B2</text>
<rect x="219.15" y="2758.38" width="16.00" height="38.92" fill="#6aba8c"/>
<text x="213.84" y="2748.28" font-size="21.80" fill="#62b088" textLength="26.67" lengthAdjust="spacingAndGlyphs" stroke="#ffffff" stroke-width="0.4">22</text>
<text x="213.58" y="2824.70" font-size="21.50" fill="#6e6e6e" textLength="26.30" lengthAdjust="spacingAndGlyphs" stroke="#ffffff" stroke-width="0.4">B3</text>
<rect x="263.65" y="2779.61" width="16.00" height="17.69" fill="#6aba8c"/>
<text x="257.89" y="2769.51" font-size="21.80" fill="#62b088" textLength="26.67" lengthAdjust="spacingAndGlyphs" stroke="#ffffff" stroke-width="0.4">10</text>
<text x="258.05" y="2824.70" font-size="21.50" fill="#6e6e6e" textLength="26.30" lengthAdjust="spacingAndGlyphs" stroke="#ffffff" stroke-width="0.4">B5</text>
<rect x="308.15" y="2754.84" width="16.00" height="42.46" fill="#6aba8c"/>
<text x="302.57" y="2744.74" font-size="21.80" fill="#62b088" textLength="26.67" lengthAdjust="spacingAndGlyphs" stroke="#ffffff" stroke-width="0.4">24</text>
<text x="302.58" y="2824.70" font-size="21.50" fill="#6e6e6e" textLength="26.30" lengthAdjust="spacingAndGlyphs" stroke="#ffffff" stroke-width="0.4">B6</text>
<rect x="352.65" y="2788.46" width="16.00" height="8.85" fill="#6aba8c"/>
<text x="354.00" y="2778.36" font-size="21.80" fill="#62b088" textLength="13.34" lengthAdjust="spacingAndGlyphs" stroke="#ffffff" stroke-width="0.4">5</text>
<text x="347.10" y="2824.70" font-size="21.50" fill="#6e6e6e" textLength="26.30" lengthAdjust="spacingAndGlyphs" stroke="#ffffff" stroke-width="0.4">B9</text>
<rect x="397.15" y="2749.54" width="16.00" height="47.76" fill="#6aba8c"/>
<text x="391.84" y="2739.44" font-size="21.80" fill="#62b088" textLength="26.67" lengthAdjust="spacingAndGlyphs" stroke="#ffffff" stroke-width="0.4">27</text>
<text x="385.69" y="2824.70" font-size="21.50" fill="#6e6e6e" textLength="38.26" lengthAdjust="spacingAndGlyphs" stroke="#ffffff" stroke-width="0.4">B12</text>
<rect x="441.65" y="2781.38" width="16.00" height="15.92" fill="#6aba8c"/>
<text x="442.97" y="2771.28" font-size="21.80" fill="#62b088" textLength="13.34" lengthAdjust="spacingAndGlyphs" stroke="#ffffff" stroke-width="0.4">9</text>
<text x="441.75" y="2824.70" font-size="21.50" fill="#6e6e6e" textLength="15.53" lengthAdjust="spacingAndGlyphs" stroke="#ffffff" stroke-width="0.4">C</text>
<rect x="486.15" y="2765.46" width="16.00" height="31.84" fill="#6aba8c"/>
<text x="480.45" y="2755.36" font-size="21.80" fill="#62b088" textLength="26.67" lengthAdjust="spacingAndGlyphs" stroke="#ffffff" stroke-width="0.4">18</text>
<text x="486.01" y="2824.70" font-size="21.50" fill="#6e6e6e" textLength="15.53" lengthAdjust="spacingAndGlyphs" stroke="#ffffff" stroke-width="0.4">D</text>
<rect x="530.65" y="2761.92" width="16.00" height="35.38" fill="#6aba8c"/>
<text x="525.19" y="2751.82" font-size="21.80" fill="#62b088" textLength="26.67" lengthAdjust="spacingAndGlyphs" stroke="#ffffff" stroke-width="0.4">20</text>
<text x="531.04" y="2824.70" font-size="21.50" fill="#6e6e6e" textLength="14.34" lengthAdjust="spacingAndGlyphs" stroke="#ffffff" stroke-width="0.4">E</text>
<rect x="575.15" y="2793.76" width="16.00" height="3.54" fill="#6aba8c"/>
<text x="576.50" y="2783.66" font-size="21.80" fill="#62b088" textLength="13.34" lengthAdjust="spacingAndGlyphs" stroke="#ffffff" stroke-width="0.4">2</text>
<text x="575.22" y="2824.70" font-size="21.50" fill="#6e6e6e" textLength="14.34" lengthAdjust="spacingAndGlyphs" stroke="#ffffff" stroke-width="0.4">K</text>
<text x="29.25" y="2918.80" font-size="43.00" font-weight="bold" fill="#7c68e6" textLength="228.08" lengthAdjust="spacingAndGlyphs">MINERALS</text>
<text x="28.85" y="2943.70" font-size="19.50" fill="#8a7fd6" textLength="179.66" lengthAdjust="spacingAndGlyphs" stroke="#ffffff" stroke-width="0.4">(% OF DAILY VALUE)</text>
<circle cx="229.50" cy="2937.40" r="7.00" fill="#9d5cf7"/>
<rect x="243.40" y="2929.45" width="456.60" height="15.80" rx="7.899999999999864" fill="#9d5cf7"/>
<rect x="273.40" y="2915.45" width="426.60" height="15.40" rx="7.699999999999818" fill="#9d5cf7"/>
<circle cx="330.70" cy="2907.40" r="7.00" fill="#9d5cf7"/>
<rect x="343.20" y="2900.55" width="356.80" height="16.30" rx="8.149999999999864" fill="#9d5cf7"/>
<rect x="400.00" y="2901.00" width="250.00" height="43.80" fill="#9d5cf7"/>
<circle cx="319.70" cy="2929.90" r="7.00" fill="#c6a3fd"/>
<rect x="331.70" y="2923.45" width="254.60" height="14.40" rx="7.199999999999818" fill="#c6a3fd"/>
<rect x="363.10" y="2910.55" width="193.10" height="14.30" rx="7.149999999999864" fill="#c6a3fd"/>
<circle cx="599.80" cy="2931.30" r="7.00" fill="#c6a3fd"/>
<line x1="71.4" y1="3003.50" x2="605.5" y2="3003.50" stroke="#e3e3e3" stroke-width="1.2"/>
<text x="27.39" y="3011.90" font-size="20.20" fill="#808080" textLength="35.84" lengthAdjust="spacingAndGlyphs" stroke="#ffffff" stroke-width="0.4">100</text>
<line x1="71.4" y1="3038.90" x2="605.5" y2="3038.90" stroke="#e3e3e3" stroke-width="1.2"/>
<text x="39.08" y="3047.30" font-size="20.20" fill="#808080" textLength="24.19" lengthAdjust="spacingAndGlyphs" stroke="#ffffff" stroke-width="0.4">80</text>
<line x1="71.4" y1="3074.30" x2="605.5" y2="3074.30" stroke="#e3e3e3" stroke-width="1.2"/>
<text x="38.90" y="3082.70" font-size="20.20" fill="#808080" textLength="24.37" lengthAdjust="spacingAndGlyphs" stroke="#ffffff" stroke-width="0.4">60</text>
<line x1="71.4" y1="3109.70" x2="605.5" y2="3109.70" stroke="#e3e3e3" stroke-width="1.2"/>
<text x="39.52" y="3118.10" font-size="20.20" fill="#808080" textLength="23.73" lengthAdjust="spacingAndGlyphs" stroke="#ffffff" stroke-width="0.4">40</text>
<line x1="71.4" y1="3145.10" x2="605.5" y2="3145.10" stroke="#e3e3e3" stroke-width="1.2"/>
<text x="38.90" y="3153.50" font-size="20.20" fill="#808080" textLength="24.37" lengthAdjust="spacingAndGlyphs" stroke="#ffffff" stroke-width="0.4">20</text>
<line x1="71.4" y1="3180.50" x2="605.5" y2="3180.50" stroke="#cfcfcf" stroke-width="1.2"/>
<text x="50.15" y="3188.90" font-size="20.20" fill="#808080" textLength="13.16" lengthAdjust="spacingAndGlyphs" stroke="#ffffff" stroke-width="0.4">0</text>
<line x1="71.4" y1="3003.50" x2="71.4" y2="3180.50" stroke="#cfcfcf" stroke-width="1.2"/>
<rect x="92.85" y="3176.96" width="16.50" height="3.54" fill="#7b69e3"/>
<text x="94.45" y="3166.86" font-size="21.80" fill="#8878e0" textLength="13.34" lengthAdjust="spacingAndGlyphs" stroke="#ffffff" stroke-width="0.4">2</text>
<text x="86.80" y="3206.20" font-size="21.50" fill="#6e6e6e" textLength="27.48" lengthAdjust="spacingAndGlyphs" stroke="#ffffff" stroke-width="0.4">Ca</text>
<rect x="152.18" y="3168.11" width="16.50" height="12.39" fill="#7b69e3"/>
<text x="153.78" y="3158.01" font-size="21.80" fill="#8878e0" textLength="13.34" lengthAdjust="spacingAndGlyphs" stroke="#ffffff" stroke-width="0.4">7</text>
<text x="146.86" y="3206.20" font-size="21.50" fill="#6e6e6e" textLength="27.48" lengthAdjust="spacingAndGlyphs" stroke="#ffffff" stroke-width="0.4">Cu</text>
<rect x="211.51" y="3164.57" width="16.50" height="15.93" fill="#7b69e3"/>
<text x="213.08" y="3154.47" font-size="21.80" fill="#8878e0" textLength="13.34" lengthAdjust="spacingAndGlyphs" stroke="#ffffff" stroke-width="0.4">9</text>
<text x="206.81" y="3206.20" font-size="21.50" fill="#6e6e6e" textLength="25.09" lengthAdjust="spacingAndGlyphs" stroke="#ffffff" stroke-width="0.4">Fe</text>
<rect x="270.84" y="3148.64" width="16.50" height="31.86" fill="#7b69e3"/>
<text x="265.39" y="3138.54" font-size="21.80" fill="#8878e0" textLength="26.67" lengthAdjust="spacingAndGlyphs" stroke="#ffffff" stroke-width="0.4">18</text>
<text x="271.16" y="3206.20" font-size="21.50" fill="#6e6e6e" textLength="14.34" lengthAdjust="spacingAndGlyphs" stroke="#ffffff" stroke-width="0.4">K</text>
<rect x="330.17" y="3148.64" width="16.50" height="31.86" fill="#7b69e3"/>
<text x="324.72" y="3138.54" font-size="21.80" fill="#8878e0" textLength="26.67" lengthAdjust="spacingAndGlyphs" stroke="#ffffff" stroke-width="0.4">18</text>
<text x="323.29" y="3206.20" font-size="21.50" fill="#6e6e6e" textLength="29.87" lengthAdjust="spacingAndGlyphs" stroke="#ffffff" stroke-width="0.4">Mg</text>
<rect x="389.50" y="3168.11" width="16.50" height="12.39" fill="#7b69e3"/>
<text x="391.10" y="3158.01" font-size="21.80" fill="#8878e0" textLength="13.34" lengthAdjust="spacingAndGlyphs" stroke="#ffffff" stroke-width="0.4">7</text>
<text x="382.62" y="3206.20" font-size="21.50" fill="#6e6e6e" textLength="29.87" lengthAdjust="spacingAndGlyphs" stroke="#ffffff" stroke-width="0.4">Mn</text>
<rect x="448.83" y="3138.02" width="16.50" height="42.48" fill="#7b69e3"/>
<text x="443.50" y="3127.92" font-size="21.80" fill="#8878e0" textLength="26.67" lengthAdjust="spacingAndGlyphs" stroke="#ffffff" stroke-width="0.4">24</text>
<text x="449.58" y="3206.20" font-size="21.50" fill="#6e6e6e" textLength="14.34" lengthAdjust="spacingAndGlyphs" stroke="#ffffff" stroke-width="0.4">P</text>
<rect x="508.16" y="3035.36" width="16.50" height="145.14" fill="#7b69e3"/>
<text x="503.19" y="3025.26" font-size="21.80" fill="#8878e0" textLength="26.67" lengthAdjust="spacingAndGlyphs" stroke="#ffffff" stroke-width="0.4">82</text>
<text x="503.24" y="3206.20" font-size="21.50" fill="#6e6e6e" textLength="26.30" lengthAdjust="spacingAndGlyphs" stroke="#ffffff" stroke-width="0.4">Se</text>
<rect x="567.49" y="3168.11" width="16.50" height="12.39" fill="#7b69e3"/>
<text x="569.09" y="3158.01" font-size="21.80" fill="#8878e0" textLength="13.34" lengthAdjust="spacingAndGlyphs" stroke="#ffffff" stroke-width="0.4">7</text>
<text x="563.54" y="3206.20" font-size="21.50" fill="#6e6e6e" textLength="25.09" lengthAdjust="spacingAndGlyphs" stroke="#ffffff" stroke-width="0.4">Zn</text>
<rect x="-20.00" y="3268.05" width="302.20" height="16.70" rx="8.349999999999909" fill="#f1c46e"/>
<circle cx="292.10" cy="3275.00" r="7.00" fill="#f1c46e"/>
<rect x="-20.00" y="3283.55" width="269.80" height="15.90" rx="7.949999999999818" fill="#f1c46e"/>
<rect x="-20.00" y="3297.95" width="200.00" height="14.80" rx="7.399999999999864" fill="#f1c46e"/>
<circle cx="190.00" cy="3304.00" r="7.00" fill="#f1c46e"/>
<rect x="-20.00" y="3283.55" width="208.50" height="16.90" rx="8.449999999999818" fill="#f9d68c"/>
<circle cx="201.00" cy="3290.00" r="7.00" fill="#f9d68c"/>
<rect x="-20.00" y="3299.55" width="178.60" height="10.90" rx="5.449999999999818" fill="#f9d68c"/>
<text x="314.55" y="3294.70" font-size="44.00" font-weight="bold" fill="#e9bf6c" textLength="306.79" lengthAdjust="spacingAndGlyphs">AMINO ACIDS</text>
<text x="258.29" y="3322.40" font-size="17.40" fill="#e8be73" textLength="360.12" lengthAdjust="spacingAndGlyphs" stroke="#ffffff" stroke-width="0.4">THESE ARE ESSENTIAL FOR YOUR BODY</text>
<circle cx="103.80" cy="3370.60" r="12.00" fill="#f4d08c"/>
<circle cx="52.80" cy="3408.90" r="8.50" fill="#f4d08c"/>
<circle cx="77.50" cy="3390.60" r="32.40" fill="#ebc071"/>
<text x="55.92" y="3392.20" font-size="21.80" font-weight="bold" fill="#ffffff" textLength="42.43" lengthAdjust="spacingAndGlyphs">1.05</text>
<text x="73.09" y="3408.50" font-size="16.50" fill="#ffffff" textLength="9.18" lengthAdjust="spacingAndGlyphs">g</text>
<text x="36.94" y="3452.40" font-size="20.00" fill="#5c5c5c" textLength="81.77" lengthAdjust="spacingAndGlyphs" stroke="#ffffff" stroke-width="0.4">Histidine</text>
<circle cx="178.60" cy="3366.60" r="9.00" fill="#f4d08c"/>
<circle cx="231.70" cy="3409.90" r="11.00" fill="#f4d08c"/>
<circle cx="202.00" cy="3390.60" r="32.40" fill="#ebc071"/>
<text x="180.42" y="3392.20" font-size="21.80" font-weight="bold" fill="#ffffff" textLength="42.43" lengthAdjust="spacingAndGlyphs">1.65</text>
<text x="197.59" y="3408.50" font-size="16.50" fill="#ffffff" textLength="9.18" lengthAdjust="spacingAndGlyphs">g</text>
<text x="153.41" y="3452.40" font-size="20.00" fill="#5c5c5c" textLength="96.71" lengthAdjust="spacingAndGlyphs" stroke="#ffffff" stroke-width="0.4">Isoleucine</text>
<circle cx="303.70" cy="3366.60" r="9.00" fill="#f4d08c"/>
<circle cx="354.70" cy="3367.60" r="11.00" fill="#f4d08c"/>
<circle cx="300.70" cy="3408.90" r="6.50" fill="#f4d08c"/>
<circle cx="327.70" cy="3390.60" r="32.40" fill="#ebc071"/>
<text x="312.55" y="3392.20" font-size="21.80" font-weight="bold" fill="#ffffff" textLength="30.31" lengthAdjust="spacingAndGlyphs">2.9</text>
<text x="323.29" y="3408.50" font-size="16.50" fill="#ffffff" textLength="9.18" lengthAdjust="spacingAndGlyphs">g</text>
<text x="287.52" y="3452.40" font-size="20.00" fill="#5c5c5c" textLength="75.61" lengthAdjust="spacingAndGlyphs" stroke="#ffffff" stroke-width="0.4">Leucine</text>
<circle cx="478.70" cy="3368.60" r="12.00" fill="#f4d08c"/>
<circle cx="424.70" cy="3409.90" r="7.00" fill="#f4d08c"/>
<circle cx="452.70" cy="3390.60" r="32.40" fill="#ebc071"/>
<text x="431.72" y="3392.20" font-size="21.80" font-weight="bold" fill="#ffffff" textLength="42.43" lengthAdjust="spacingAndGlyphs">3.27</text>
<text x="448.29" y="3408.50" font-size="16.50" fill="#ffffff" textLength="9.18" lengthAdjust="spacingAndGlyphs">g</text>
<text x="419.19" y="3452.40" font-size="20.00" fill="#5c5c5c" textLength="62.46" lengthAdjust="spacingAndGlyphs" stroke="#ffffff" stroke-width="0.4">Lysine</text>
<circle cx="554.50" cy="3366.60" r="10.00" fill="#f4d08c"/>
<circle cx="549.70" cy="3408.90" r="7.00" fill="#f4d08c"/>
<circle cx="577.50" cy="3390.60" r="32.40" fill="#ebc071"/>
<text x="555.92" y="3392.20" font-size="21.80" font-weight="bold" fill="#ffffff" textLength="42.43" lengthAdjust="spacingAndGlyphs">1.05</text>
<text x="573.09" y="3408.50" font-size="16.50" fill="#ffffff" textLength="9.18" lengthAdjust="spacingAndGlyphs">g</text>
<text x="520.21" y="3452.40" font-size="20.00" fill="#5c5c5c" textLength="106.37" lengthAdjust="spacingAndGlyphs" stroke="#ffffff" stroke-width="0.4">Methionine</text>
<circle cx="103.70" cy="3498.40" r="12.00" fill="#f4d08c"/>
<circle cx="49.70" cy="3539.70" r="7.00" fill="#f4d08c"/>
<circle cx="77.50" cy="3520.40" r="32.40" fill="#ebc071"/>
<text x="55.92" y="3522.00" font-size="21.80" font-weight="bold" fill="#ffffff" textLength="42.43" lengthAdjust="spacingAndGlyphs">1.41</text>
<text x="73.09" y="3538.30" font-size="16.50" fill="#ffffff" textLength="9.18" lengthAdjust="spacingAndGlyphs">g</text>
<text x="11.06" y="3582.30" font-size="20.00" fill="#5c5c5c" textLength="132.44" lengthAdjust="spacingAndGlyphs" stroke="#ffffff" stroke-width="0.4">Phenylalanine</text>
<circle cx="178.60" cy="3496.40" r="9.00" fill="#f4d08c"/>
<circle cx="231.70" cy="3539.70" r="11.00" fill="#f4d08c"/>
<circle cx="202.00" cy="3520.40" r="32.40" fill="#ebc071"/>
<text x="180.45" y="3522.00" font-size="21.80" font-weight="bold" fill="#ffffff" textLength="42.43" lengthAdjust="spacingAndGlyphs">1.58</text>
<text x="197.59" y="3538.30" font-size="16.50" fill="#ffffff" textLength="9.18" lengthAdjust="spacingAndGlyphs">g</text>
<text x="153.42" y="3582.30" font-size="20.00" fill="#5c5c5c" textLength="95.19" lengthAdjust="spacingAndGlyphs" stroke="#ffffff" stroke-width="0.4">Threonine</text>
<circle cx="303.70" cy="3496.40" r="9.00" fill="#f4d08c"/>
<circle cx="355.70" cy="3539.70" r="10.50" fill="#f4d08c"/>
<circle cx="327.70" cy="3520.40" r="32.40" fill="#ebc071"/>
<text x="312.17" y="3522.00" font-size="21.80" font-weight="bold" fill="#ffffff" textLength="30.31" lengthAdjust="spacingAndGlyphs">0.4</text>
<text x="323.29" y="3538.30" font-size="16.50" fill="#ffffff" textLength="9.18" lengthAdjust="spacingAndGlyphs">g</text>
<text x="272.72" y="3582.30" font-size="20.00" fill="#5c5c5c" textLength="106.95" lengthAdjust="spacingAndGlyphs" stroke="#ffffff" stroke-width="0.4">Tryptophan</text>
<circle cx="428.70" cy="3496.40" r="9.00" fill="#f4d08c"/>
<circle cx="479.70" cy="3497.40" r="11.00" fill="#f4d08c"/>
<circle cx="425.70" cy="3538.70" r="6.50" fill="#f4d08c"/>
<circle cx="452.70" cy="3520.40" r="32.40" fill="#ebc071"/>
<text x="430.87" y="3522.00" font-size="21.80" font-weight="bold" fill="#ffffff" textLength="42.43" lengthAdjust="spacingAndGlyphs">1.84</text>
<text x="448.29" y="3538.30" font-size="16.50" fill="#ffffff" textLength="9.18" lengthAdjust="spacingAndGlyphs">g</text>
<text x="420.29" y="3582.30" font-size="20.00" fill="#5c5c5c" textLength="58.03" lengthAdjust="spacingAndGlyphs" stroke="#ffffff" stroke-width="0.4">Valine</text>
<rect x="523.60" y="3505.85" width="176.40" height="15.80" rx="7.899999999999636" fill="#f5f5f5"/>
<rect x="546.20" y="3534.75" width="153.80" height="14.00" rx="7.0" fill="#f5f5f5"/>
<rect x="580.00" y="3520.50" width="52.00" height="15.20" fill="#f5f5f5"/>
<rect x="540.00" y="3521.20" width="50.80" height="14.00" rx="7.0" fill="#ffffff"/>
<rect x="621.50" y="3521.20" width="138.50" height="14.00" rx="7.0" fill="#ffffff"/>
<circle cx="534.20" cy="3541.90" r="6.50" fill="#f5f5f5"/>
<path d="M0,3623 C40,3627 120,3627 200,3623 C260,3620 300,3620 340,3620.5 C400,3621 430,3624 470,3629 L650,3632 L650,3687 L0,3687 Z" fill="#c24f5a"/>
<path d="M0,3634 C60,3624 100,3619 160,3619 C220,3619 280,3629 350,3630 C420,3631 480,3620 545,3620 C600,3620 630,3621 650,3622 L650,3871 L0,3871 Z" fill="#9d2a35"/>
<path d="M273.7,3683.6 C266,3677 257.5,3670 256.9,3663 C256.3,3657 260,3653.9 265,3653.9 C269,3653.9 272,3656 273.7,3658.5 C275,3656.7 276.3,3655.6 277.8,3655" fill="none" stroke="#ffffff" stroke-width="2.5" stroke-linecap="round" stroke-linejoin="round"/>
<path d="M289.2,3662.5 C289.4,3669 281,3677 273.7,3683.6" fill="none" stroke="#ffffff" stroke-width="2.5" stroke-linecap="round" stroke-linejoin="round"/>
<path d="M280.4,3661.4 C278.8,3655 284,3650.2 293.4,3649.6 C294,3656 289,3661.2 280.4,3661.4 Z" fill="#ffffff"/>
<text x="302.96" y="3681.60" font-size="31.50" fill="#ffffff" textLength="92.52" lengthAdjust="spacingAndGlyphs" stroke="#9d2a35" stroke-width="0.4">inlivo</text>
<text x="209.09" y="3706.40" font-size="18.40" fill="#ffffff" textLength="231.50" lengthAdjust="spacingAndGlyphs">Nutrition Tracker &amp; Health Coach</text>
<text x="254.64" y="3725.40" font-size="16.80" fill="#ffffff" letter-spacing="2.148">www.inlivo.com</text>
<rect x="253.70" y="3728.60" width="144.30" height="1.10" fill="#dca0a6"/>
<text x="90.37" y="3755.60" font-size="14.20" fill="#ffffff" textLength="468.22" lengthAdjust="spacingAndGlyphs">Nothing contained in this presentation and our services is intended or implied</text>
<text x="183.79" y="3771.80" font-size="14.20" fill="#ffffff" textLength="282.85" lengthAdjust="spacingAndGlyphs">to be a medical advice, diagnosis or treatment.</text>
<path d="M295.2,3807 L295.2,3790 L346,3790 L346,3800" fill="none" stroke="#ffffff" stroke-width="2.6"/>
<rect x="303.90" y="3818.00" width="31.80" height="7.30" fill="#ffffff"/>
<circle cx="320.50" cy="3821.60" r="1.10" fill="#9d2a35"/>
<path d="M315.3,3825.3 L326.8,3825.3 L328.8,3832.0 L312.2,3832.0 Z" fill="#ffffff"/>
<rect x="289.60" y="3810.80" width="11.40" height="22.40" rx="1.5" fill="none" stroke="#ffffff" stroke-width="1.8"/>
<circle cx="295.30" cy="3830.50" r="0.90" fill="#ffffff"/>
<rect x="338.60" y="3800.50" width="22.20" height="31.00" rx="1.8" fill="none" stroke="#ffffff" stroke-width="2"/>
<rect x="338.60" y="3827.00" width="22.20" height="5.00" fill="#ffffff"/>
<circle cx="346.10" cy="3829.50" r="1.00" fill="#9d2a35"/>
<circle cx="349.70" cy="3829.50" r="1.00" fill="#9d2a35"/>
<circle cx="353.30" cy="3829.50" r="1.00" fill="#9d2a35"/>
<text x="161.77" y="3851.00" font-size="14.50" font-weight="bold" fill="#e7c3c6" textLength="326.60" lengthAdjust="spacingAndGlyphs">Available on your desktop, tablet and mobile phone</text>
</svg>
</body></html>
